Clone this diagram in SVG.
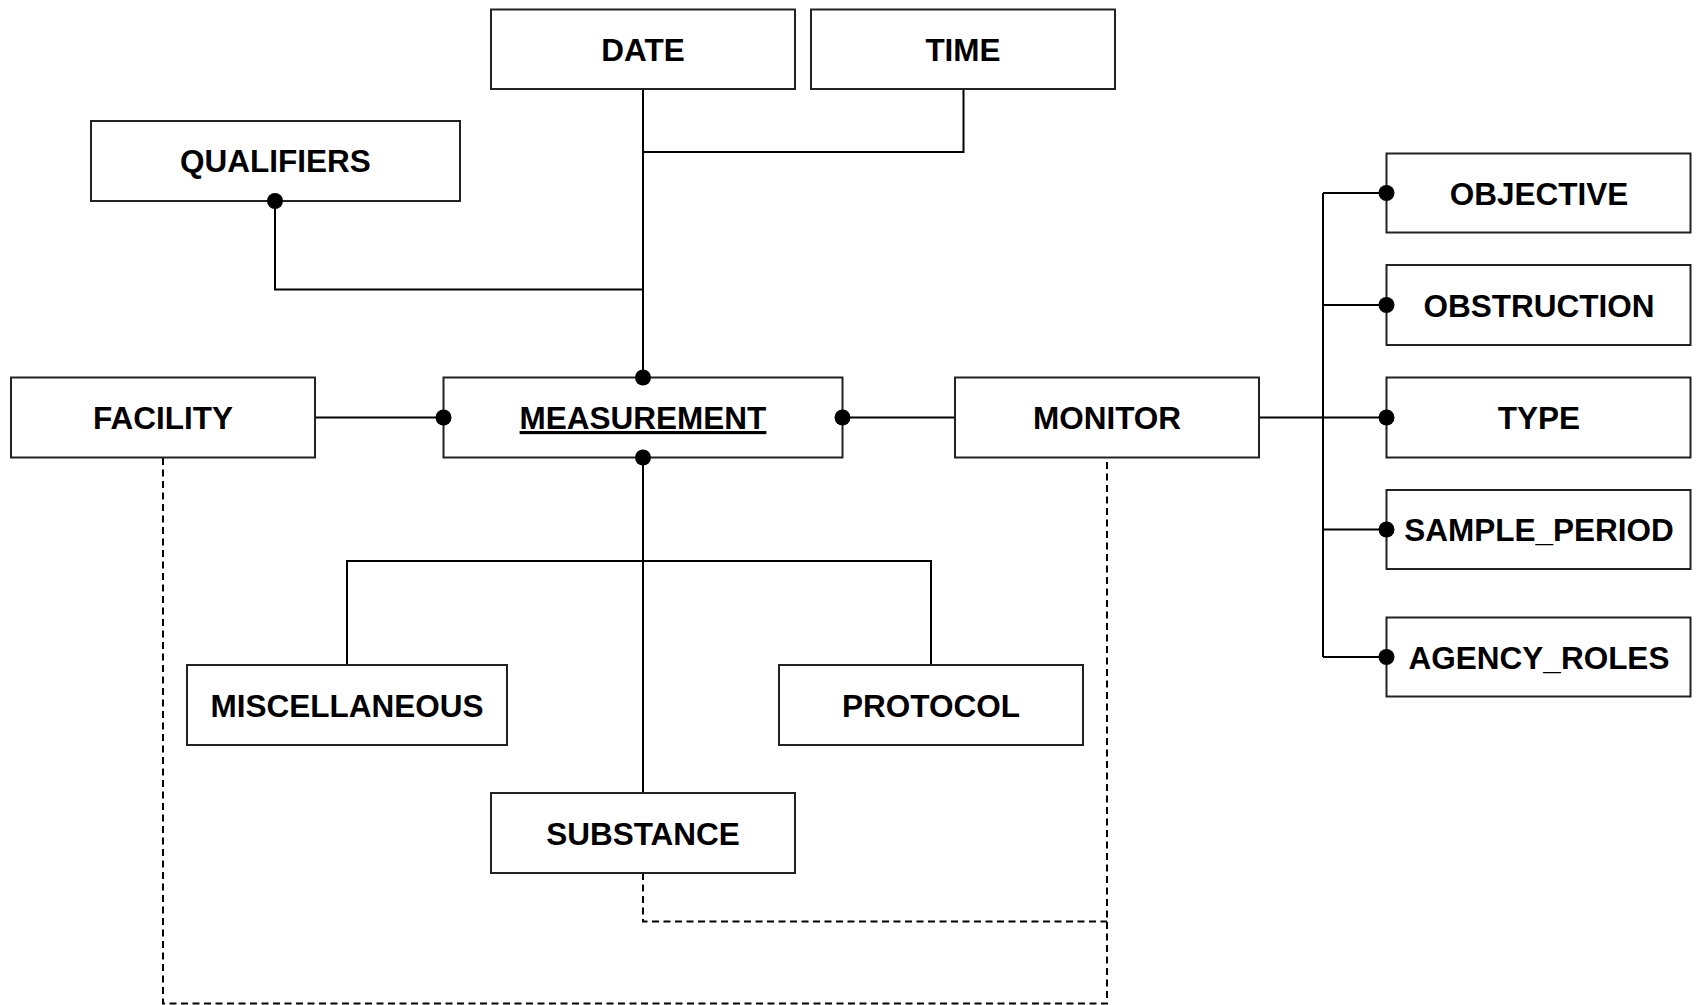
<svg xmlns="http://www.w3.org/2000/svg" width="1696" height="1005" viewBox="0 0 1696 1005">
<style>
.box{fill:#fff;stroke:#222;stroke-width:2}
.lbl{font-family:"Liberation Sans",Arial,sans-serif;font-weight:bold;font-size:31.5px;fill:#000;text-anchor:middle}
.ln{fill:none;stroke:#000;stroke-width:2}
.dash{fill:none;stroke:#000;stroke-width:2;stroke-dasharray:7,4.5}
.dot{fill:#000}
</style>
<rect width="1696" height="1005" fill="#fff"/>
<g id="connectors">
<polyline class="ln" points="643,89 643,377.5"/>
<polyline class="ln" points="963.5,89 963.5,152 643,152"/>
<polyline class="ln" points="275,201 275,289.5 643,289.5"/>
<line class="ln" x1="315" y1="417.5" x2="443.5" y2="417.5"/>
<line class="ln" x1="842.5" y1="417.5" x2="955" y2="417.5"/>
<line class="ln" x1="643" y1="457.5" x2="643" y2="793"/>
<polyline class="ln" points="347,665 347,561 931,561 931,665"/>
<line class="ln" x1="1259" y1="417.5" x2="1386.5" y2="417.5" stroke-width="2.5"/>
<line class="ln" x1="1323" y1="193" x2="1323" y2="657"/>
<line class="ln" x1="1323" y1="193" x2="1386.5" y2="193"/>
<line class="ln" x1="1323" y1="305" x2="1386.5" y2="305"/>
<line class="ln" x1="1323" y1="529.5" x2="1386.5" y2="529.5"/>
<line class="ln" x1="1323" y1="657" x2="1386.5" y2="657"/>
<polyline class="dash" points="163,458 163,1003.5 1107,1003.5 1107,458"/>
<polyline class="dash" points="643,873 643,921.5 1107,921.5"/>
</g>
<g id="QUALIFIERS"><rect class="box" x="91" y="121" width="369" height="80"/><text class="lbl" x="275.5" y="172">QUALIFIERS</text></g>
<g id="DATE"><rect class="box" x="491" y="9.5" width="304" height="79.5"/><text class="lbl" x="643" y="61">DATE</text></g>
<g id="TIME"><rect class="box" x="811" y="9.5" width="304" height="79.5"/><text class="lbl" x="963" y="61">TIME</text></g>
<g id="FACILITY"><rect class="box" x="11" y="377.5" width="304" height="80"/><text class="lbl" x="163" y="429">FACILITY</text></g>
<g id="MEASUREMENT"><rect class="box" x="443.5" y="377.5" width="399" height="80"/><text class="lbl" x="643" y="429" text-decoration="underline">MEASUREMENT</text></g>
<g id="MONITOR"><rect class="box" x="955" y="377.5" width="304" height="80"/><text class="lbl" x="1107" y="429">MONITOR</text></g>
<g id="OBJECTIVE"><rect class="box" x="1386.5" y="153.5" width="304" height="79"/><text class="lbl" x="1539" y="204.5">OBJECTIVE</text></g>
<g id="OBSTRUCTION"><rect class="box" x="1386.5" y="265" width="304" height="80"/><text class="lbl" x="1539" y="316.5">OBSTRUCTION</text></g>
<g id="TYPE"><rect class="box" x="1386.5" y="377.5" width="304" height="80"/><text class="lbl" x="1539" y="429">TYPE</text></g>
<g id="SAMPLE_PERIOD"><rect class="box" x="1386.5" y="490" width="304" height="79"/><text class="lbl" x="1539" y="541">SAMPLE_PERIOD</text></g>
<g id="AGENCY_ROLES"><rect class="box" x="1386.5" y="617.5" width="304" height="79"/><text class="lbl" x="1539" y="668.5">AGENCY_ROLES</text></g>
<g id="MISCELLANEOUS"><rect class="box" x="187" y="665" width="320" height="80"/><text class="lbl" x="347" y="716.5">MISCELLANEOUS</text></g>
<g id="PROTOCOL"><rect class="box" x="779" y="665" width="304" height="80"/><text class="lbl" x="931" y="716.5">PROTOCOL</text></g>
<g id="SUBSTANCE"><rect class="box" x="491" y="793" width="304" height="80"/><text class="lbl" x="643" y="844.5">SUBSTANCE</text></g>
<g id="dots">
<circle class="dot" cx="275" cy="201" r="8"/>
<circle class="dot" cx="643" cy="377.5" r="8"/>
<circle class="dot" cx="643" cy="457.5" r="8"/>
<circle class="dot" cx="443.5" cy="417.5" r="8"/>
<circle class="dot" cx="842.5" cy="417.5" r="8"/>
<circle class="dot" cx="1386.5" cy="193" r="8"/>
<circle class="dot" cx="1386.5" cy="305" r="8"/>
<circle class="dot" cx="1386.5" cy="417.5" r="8"/>
<circle class="dot" cx="1386.5" cy="529.5" r="8"/>
<circle class="dot" cx="1386.5" cy="657" r="8"/>
</g>
</svg>
